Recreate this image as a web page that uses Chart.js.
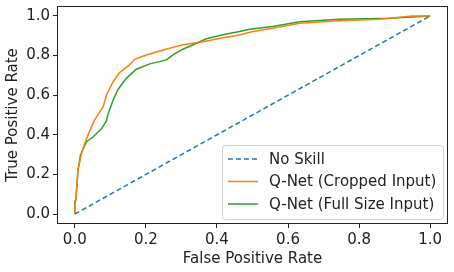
<!DOCTYPE html>
<html>
<head>
<meta charset="utf-8">
<script src="https://cdn.jsdelivr.net/npm/chart.js@4"></script>
<style>
  html,body{margin:0;padding:0;background:#fff;}
  #wrap{width:454px;height:272px;}
</style>
</head>
<body>
<div id="wrap"><canvas id="c" width="454" height="272"></canvas></div>
<script>
// Data
const tickVals = [0, 0.2, 0.4, 0.6, 0.8, 1.0];

const skillX = [0, 1];
const skillY = [0, 1];

const croppedX = [0, 0, 0.005, 0.009, 0.019, 0.028, 0.042, 0.056, 0.080, 0.089, 0.108, 0.126, 0.154, 0.169, 0.201, 0.248, 0.304, 0.342, 0.360, 0.417, 0.463, 0.501, 0.557, 0.632, 0.744, 0.857, 0.949, 1.0];
const croppedY = [0, 0.03, 0.113, 0.222, 0.306, 0.357, 0.420, 0.475, 0.542, 0.601, 0.668, 0.714, 0.753, 0.781, 0.803, 0.828, 0.854, 0.865, 0.870, 0.890, 0.904, 0.921, 0.938, 0.963, 0.975, 0.983, 1.0, 1.0];

const fullX = [0, 0, 0.003, 0.009, 0.016, 0.033, 0.052, 0.075, 0.089, 0.094, 0.108, 0.122, 0.145, 0.173, 0.211, 0.258, 0.276, 0.304, 0.342, 0.370, 0.417, 0.463, 0.492, 0.557, 0.632, 0.744, 0.885, 1.0];
const fullY = [0, 0.063, 0.07, 0.222, 0.298, 0.365, 0.390, 0.430, 0.470, 0.508, 0.576, 0.630, 0.685, 0.731, 0.758, 0.778, 0.803, 0.832, 0.862, 0.885, 0.905, 0.921, 0.933, 0.946, 0.971, 0.983, 0.988, 1.0];

const labels = ["No Skill", "Q-Net (Cropped Input)", "Q-Net (Full Size Input)"];
const colors = ["#1f77b4", "#ff7f0e", "#2ca02c"];

const pts = (xs, ys) => xs.map((x, i) => ({x, y: ys[i]}));
const FONT = "'DejaVu Sans', sans-serif";

// frame around the plot area (matplotlib spines)
const frame = {
  id: "frame",
  afterDatasetsDraw(chart){
    const {ctx, chartArea:a} = chart;
    ctx.save();
    ctx.strokeStyle = "#222"; ctx.lineWidth = 1;
    ctx.strokeRect(Math.round(a.left)+0.5, Math.round(a.top)+0.5, Math.round(a.right-a.left)-1, Math.round(a.bottom-a.top)-1);
    ctx.restore();
  }
};

// legend box in the lower right, like matplotlib's
const boxLegend = {
  id: "boxLegend",
  afterDraw(chart){
    const {ctx, chartArea:a} = chart;
    const w = 221, h = 74;
    const x = a.right - 5 - w, y = a.bottom - 5 - h;
    ctx.save();
    ctx.beginPath();
    ctx.roundRect(x+0.5, y+0.5, w, h, 3);
    ctx.fillStyle = "rgba(255,255,255,0.8)";
    ctx.fill();
    ctx.strokeStyle = "#d0d0d0"; ctx.lineWidth = 1;
    ctx.stroke();
    ctx.font = "15px " + FONT;
    ctx.textBaseline = "middle";
    chart.data.datasets.forEach((ds, i) => {
      const cy = y + 14 + i * 22.5;
      ctx.beginPath();
      ctx.setLineDash(ds.borderDash || []);
      ctx.strokeStyle = ds.borderColor; ctx.lineWidth = 1.5;
      ctx.moveTo(x + 6, cy); ctx.lineTo(x + 36, cy);
      ctx.stroke();
      ctx.setLineDash([]);
      ctx.fillStyle = "#222";
      ctx.fillText(ds.label, x + 47, cy + 1);
    });
    ctx.restore();
  }
};

const axisCommon = {
  type: "linear",
  min: -0.05, max: 1.05,
  afterBuildTicks: s => { s.ticks = tickVals.map(v => ({value: v})); },
  grid: {drawOnChartArea: false, drawTicks: true, tickLength: 4, color: "#222", tickColor: "#222"},
  border: {display: false},
  ticks: {color: "#222", font: {size: 15, family: FONT}, padding: 3, callback: v => v.toFixed(1), maxRotation: 0, autoSkip: false}
};

new Chart(document.getElementById("c"), {
  type: "line",
  data: {
    datasets: [
      {label: labels[0], data: pts(skillX, skillY), borderColor: colors[0], borderDash: [5, 3], borderWidth: 1.5, pointRadius: 0, tension: 0},
      {label: labels[1], data: pts(croppedX, croppedY), borderColor: colors[1], borderWidth: 1.5, pointRadius: 0, tension: 0},
      {label: labels[2], data: pts(fullX, fullY), borderColor: colors[2], borderWidth: 1.5, pointRadius: 0, tension: 0}
    ]
  },
  options: {
    responsive: false,
    animation: false,
    layout: {padding: {left: 4, right: 6, top: 6, bottom: 0}},
    plugins: {legend: {display: false}, tooltip: {enabled: false}},
    scales: {
      x: Object.assign({}, axisCommon, {
        title: {display: true, text: "False Positive Rate", color: "#222", font: {size: 15, family: FONT}, padding: {top: 0, bottom: 4}},
        afterFit: s => { s.height = 48; s.paddingLeft = 0; s.paddingRight = 0; }
      }),
      y: Object.assign({}, axisCommon, {
        title: {display: true, text: "True Positive Rate", color: "#222", font: {size: 15, family: FONT}, padding: {top: 0, bottom: 2}},
        afterFit: s => { s.width = 53; s.paddingTop = 0; s.paddingBottom = 0; }
      })
    }
  },
  plugins: [frame, boxLegend]
});
</script>
</body>
</html>
